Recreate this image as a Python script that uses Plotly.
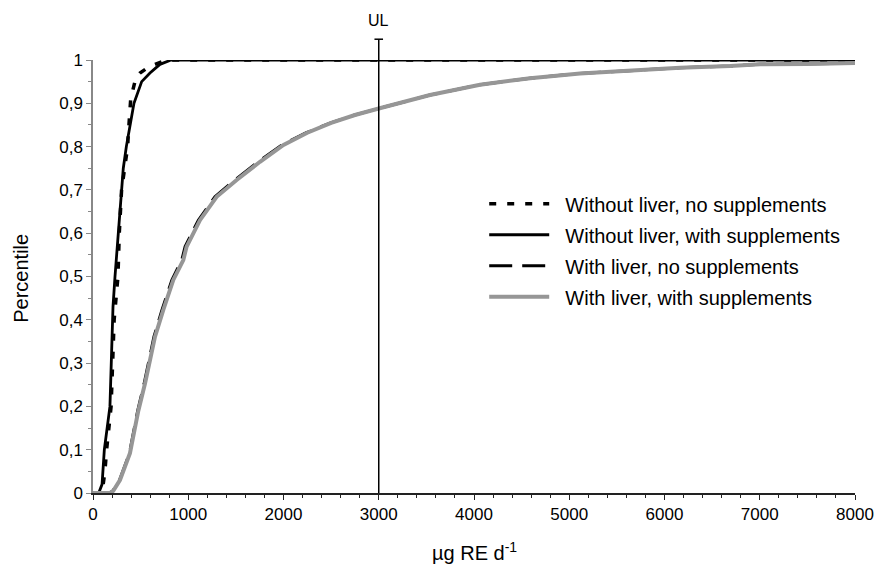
import plotly.graph_objects as go

# ---------------- data ----------------
series_names = [
    "Without liver, no supplements",
    "Without liver, with supplements",
    "With liver, no supplements",
    "With liver, with supplements",
]

wl_ns_x = [0, 95, 125, 143, 190, 210, 222, 262, 276, 300, 364, 371, 381, 396, 451, 493, 591, 773, 8000]
wl_ns_p = [0, 0.0, 0.05, 0.10, 0.20, 0.30, 0.40, 0.50, 0.60, 0.70, 0.80, 0.83, 0.87, 0.91, 0.96, 0.97, 0.985, 1.0, 1.0]

wl_ws_x = [0, 60, 95, 119, 178, 195, 210, 231, 266, 295, 318, 350, 430, 511, 598, 703, 820, 8000]
wl_ws_p = [0, 0.0, 0.02, 0.10, 0.20, 0.30, 0.43, 0.50, 0.60, 0.70, 0.75, 0.80, 0.90, 0.95, 0.97, 0.99, 1.0, 1.0]

li_ns_x = [0, 174, 209, 279, 383, 469, 537, 588, 640, 724, 828, 932, 967, 1106, 1280, 1490, 1735,
           1985, 2240, 2495, 2748, 3000, 3538, 4063, 4588, 5113, 5638, 6163, 6688, 7003, 7500, 8000]
li_ns_p = [0, 0.0, 0.005, 0.03, 0.092, 0.19, 0.253, 0.307, 0.361, 0.423, 0.492, 0.538, 0.569, 0.63, 0.684, 0.723, 0.765,
           0.804, 0.832, 0.855, 0.873, 0.888, 0.919, 0.943, 0.958, 0.969, 0.976, 0.982, 0.986, 0.99, 0.991, 0.993]

li_ws_x = [0, 178, 213, 283, 388, 476, 546, 598, 651, 738, 843, 948, 983, 1123, 1298, 1508, 1753,
           2000, 2250, 2500, 2750, 3000, 3538, 4063, 4588, 5113, 5638, 6163, 6688, 7003, 7500, 8000]
li_ws_p = [0, 0.0, 0.005, 0.03, 0.092, 0.19, 0.253, 0.307, 0.361, 0.423, 0.492, 0.538, 0.569, 0.63, 0.684, 0.723, 0.765,
           0.804, 0.832, 0.855, 0.873, 0.888, 0.919, 0.943, 0.958, 0.969, 0.976, 0.982, 0.986, 0.99, 0.991, 0.993]

ul_value = 3000
ul_label = "UL"

x_title = "µg RE d<sup>-1</sup>"
y_title = "Percentile"

FONT = "Arial, 'Liberation Sans', Helvetica, sans-serif"
NBSP = "\u00a0"

# ---------------- figure ----------------
fig = go.Figure()

styles = [
    dict(color="black", width=3.5, dash="7px,11px"),
    dict(color="black", width=2.8, dash="solid"),
    dict(color="black", width=3, dash="23px,10px"),
    dict(color="#969696", width=4, dash="solid"),
]
data = [(wl_ns_x, wl_ns_p), (wl_ws_x, wl_ws_p), (li_ns_x, li_ns_p), (li_ws_x, li_ws_p)]

for i, (name, (xs, ps), st) in enumerate(zip(series_names, data, styles)):
    fig.add_trace(go.Scatter(
        x=xs, y=ps, mode="lines", name=NBSP * 2 + name, line=st,
        legendgroup=f"g{i}", hoverinfo="skip",
    ))

# UL vertical line
fig.add_shape(type="line", xref="x", yref="paper", x0=ul_value, x1=ul_value, y0=0, y1=1.048,
              line=dict(color="black", width=1.5))
fig.add_shape(type="line", xref="x", yref="paper", x0=ul_value - 45, x1=ul_value + 45, y0=1.048, y1=1.048,
              line=dict(color="black", width=1.5))
fig.add_annotation(x=ul_value, xref="x", y=1.066, yref="paper", text=ul_label, showarrow=False,
                   yanchor="bottom", font=dict(size=16, color="black", family=FONT))

# axis titles
fig.add_annotation(x=0.5, xref="paper", y=-0.134, yref="paper", text=x_title, showarrow=False,
                   xanchor="center", yanchor="middle", font=dict(size=20, color="black", family=FONT))
fig.add_annotation(x=-0.0945, xref="paper", y=0.497, yref="paper", text=y_title, showarrow=False,
                   textangle=-90, xanchor="center", yanchor="middle",
                   font=dict(size=20, color="black", family=FONT))

axis_common = dict(showgrid=False, zeroline=False, automargin=False)

# page body has an 8px margin: figure is sized/placed to compensate
fig.update_layout(
    width=874, height=557,
    margin=dict(l=85, r=27, t=52, b=72),
    paper_bgcolor="white", plot_bgcolor="white",
    font=dict(family=FONT, color="black", size=16),
    separators=", ",
    showlegend=True,
    legend=dict(
        x=0.5134, y=0.713, xanchor="left", yanchor="top",
        font=dict(size=20, family=FONT, color="black"),
        itemwidth=60, tracegroupgap=2, bgcolor="rgba(0,0,0,0)",
    ),
    xaxis=dict(
        range=[0, 8000], tick0=0, dtick=1000, ticks="outside", ticklen=5, tickwidth=1.2,
        tickcolor="#222", showline=True, linecolor="#222", linewidth=1.5,
        tickfont=dict(size=17), minor=dict(ticks="outside", ticklen=3, dtick=200, tickcolor="#222"),
        **axis_common,
    ),
    yaxis=dict(
        range=[0, 1], tick0=0, dtick=0.1, ticks="outside", ticklen=5, tickwidth=1.2,
        tickcolor="#888", showline=True, linecolor="#888", linewidth=1.5,
        tickfont=dict(size=17), minor=dict(ticks="outside", ticklen=3, dtick=0.05, tickcolor="#888"),
        **axis_common,
    ),
    xaxis2=dict(
        overlaying="x", anchor="y", matches="x", side="bottom", tick0=0, dtick=1000,
        ticks="inside", ticklen=5, tickwidth=1.2, tickcolor="#222", showticklabels=False,
        showline=False, minor=dict(ticks="inside", ticklen=3, dtick=200, tickcolor="#222"),
        **axis_common,
    ),
    yaxis2=dict(
        overlaying="y", anchor="x", matches="y", side="left", tick0=0, dtick=0.1,
        ticks="inside", ticklen=5, tickwidth=1.2, tickcolor="#888", showticklabels=False,
        showline=False, minor=dict(ticks="inside", ticklen=3, dtick=0.05, tickcolor="#888"),
        **axis_common,
    ),
)

fig.write_html("out.html")
